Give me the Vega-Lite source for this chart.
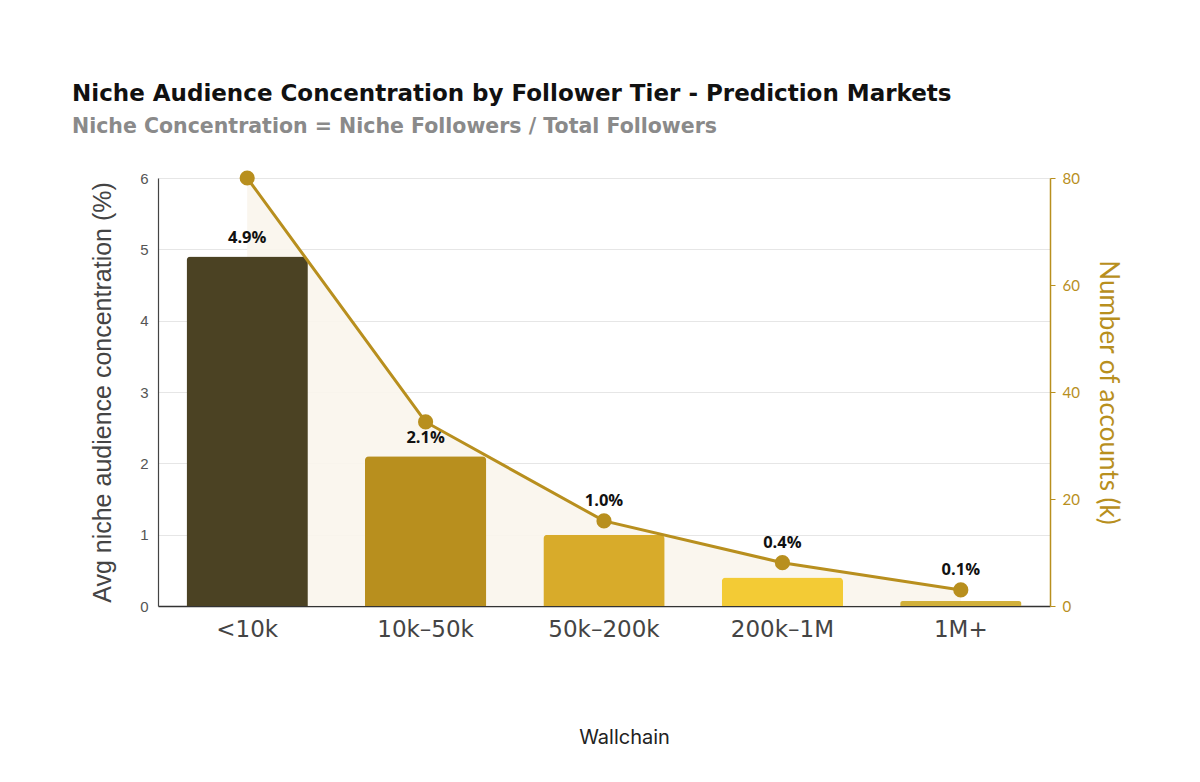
{
  "$schema": "https://vega.github.io/schema/vega-lite/v6.json",
  "autosize": {"type": "none"},
  "width": 892,
  "height": 428,
  "padding": {"left": 158, "top": 178, "right": 150, "bottom": 176},
  "background": "#ffffff",
  "title": {
    "text": "Niche Audience Concentration by Follower Tier - Prediction Markets",
    "subtitle": "Niche Concentration = Niche Followers / Total Followers",
    "anchor": "start",
    "frame": "group",
    "dx": -86,
    "offset": 33,
    "font": "DejaVu Sans",
    "fontSize": 23,
    "fontWeight": 700,
    "color": "#111111",
    "subtitleFont": "DejaVu Sans",
    "subtitleFontSize": 20.5,
    "subtitleFontWeight": 700,
    "subtitleColor": "#8a8a8a",
    "subtitlePadding": 11
  },
  "data": {
    "values": [
      {"tier": "<10k", "concentration": 4.9, "label": "4.9%", "accounts": 80},
      {"tier": "10k–50k", "concentration": 2.1, "label": "2.1%", "accounts": 34.4},
      {"tier": "50k–200k", "concentration": 1.0, "label": "1.0%", "accounts": 15.9},
      {"tier": "200k–1M", "concentration": 0.4, "label": "0.4%", "accounts": 8.1},
      {"tier": "1M+", "concentration": 0.07, "label": "0.1%", "accounts": 3.0}
    ]
  },
  "encoding": {
    "x": {
      "field": "tier",
      "type": "nominal",
      "sort": null,
      "scale": {"paddingInner": 0.32, "paddingOuter": 0.16},
      "axis": {
        "title": "Wallchain",
        "titleFont": "Inter",
        "titleFontSize": 20,
        "titleFontWeight": 400,
        "titleColor": "#222222",
        "titlePadding": 86,
        "titleX": 466,
        "labelAngle": 0,
        "labelFont": "DejaVu Sans",
        "labelFontSize": 23,
        "labelColor": "#444444",
        "labelPadding": 12,
        "ticks": false,
        "domainColor": "#333333",
        "domainWidth": 1.5,
        "grid": false
      }
    }
  },
  "layer": [
    {
      "mark": {"type": "area", "color": "#f9f5ec", "opacity": 0.9},
      "encoding": {
        "y": {"field": "accounts", "type": "quantitative", "scale": {"domain": [0, 80]}, "axis": null}
      }
    },
    {
      "encoding": {
        "y": {
          "field": "concentration",
          "type": "quantitative",
          "scale": {"domain": [0, 6]},
          "axis": {
            "title": "Avg niche audience concentration (%)",
            "titleFont": "Liberation Sans",
            "titleFontSize": 25,
            "titleFontWeight": 400,
            "titleColor": "#444444",
            "titlePadding": 24,
            "values": [0, 1, 2, 3, 4, 5, 6],
            "labelFont": "Liberation Sans",
            "labelFontSize": 15,
            "labelColor": "#555555",
            "labelPadding": 10,
            "ticks": false,
            "domainColor": "#444444",
            "domainWidth": 1.2,
            "grid": true,
            "gridColor": "#e6e6e6",
            "gridWidth": 1
          }
        }
      },
      "layer": [
        {
          "mark": {"type": "bar", "cornerRadiusTopLeft": 4, "cornerRadiusTopRight": 4},
          "encoding": {
            "color": {
              "field": "tier",
              "type": "nominal",
              "sort": null,
              "scale": {
                "domain": ["<10k", "10k–50k", "50k–200k", "200k–1M", "1M+"],
                "range": ["#4b4223", "#b88f1e", "#d8ab2a", "#f3cb35", "#d1b03a"]
              },
              "legend": null
            }
          }
        },
        {
          "transform": [{"filter": {"field": "tier", "oneOf": ["<10k", "10k–50k"]}}],
          "mark": {"type": "text", "font": "Open Sans", "fontSize": 16.5, "fontWeight": 700, "color": "#111111", "baseline": "middle", "dy": -18},
          "encoding": {"text": {"field": "label"}}
        }
      ]
    },
    {
      "encoding": {
        "y": {
          "field": "accounts",
          "type": "quantitative",
          "scale": {"domain": [0, 80]},
          "axis": {
            "orient": "right",
            "title": "Number of accounts (k)",
            "titleFont": "Lato",
            "titleFontSize": 26,
            "titleFontWeight": 400,
            "titleColor": "#b88f1e",
            "titlePadding": 15,
            "values": [0, 20, 40, 60, 80],
            "labelFont": "Lato",
            "labelFontSize": 15,
            "labelColor": "#b88f1e",
            "labelPadding": 7,
            "tickColor": "#b88f1e",
            "tickSize": 5,
            "domainColor": "#b88f1e",
            "domainWidth": 1.5,
            "grid": false
          }
        }
      },
      "layer": [
        {"mark": {"type": "line", "color": "#b88f1e", "strokeWidth": 3}},
        {"mark": {"type": "point", "filled": true, "opacity": 1, "color": "#b88f1e", "size": 230}},
        {
          "transform": [{"filter": {"field": "tier", "oneOf": ["50k–200k", "200k–1M", "1M+"]}}],
          "mark": {"type": "text", "font": "Open Sans", "fontSize": 16.5, "fontWeight": 700, "color": "#111111", "baseline": "middle", "dy": -20},
          "encoding": {"text": {"field": "label"}}
        }
      ]
    }
  ],
  "resolve": {"scale": {"y": "independent"}, "axis": {"y": "independent"}},
  "config": {
    "view": {"stroke": null}
  }
}
